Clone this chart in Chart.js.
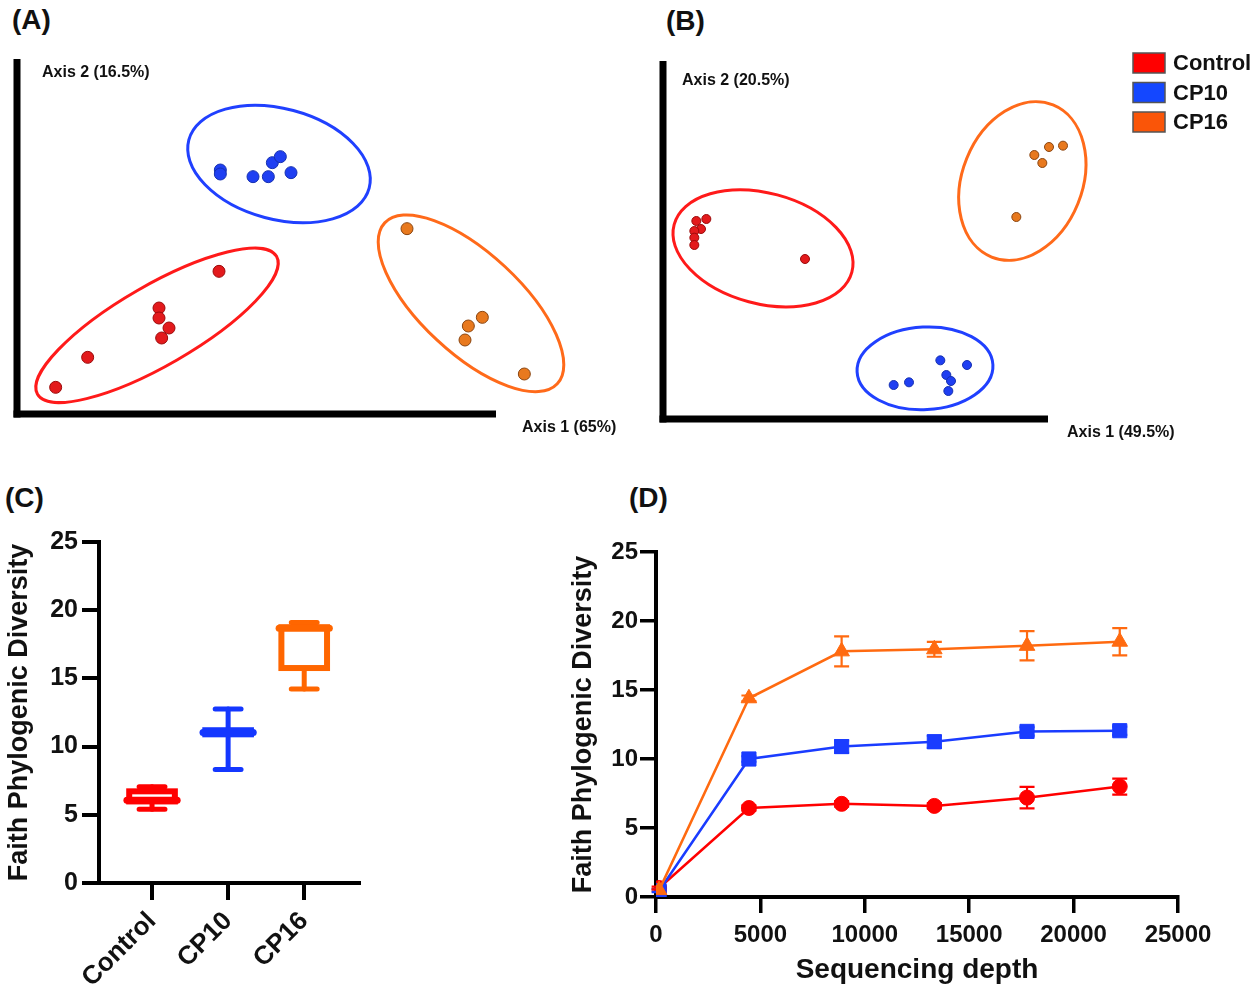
<!DOCTYPE html>
<html>
<head>
<meta charset="utf-8">
<title>PCoA and Faith PD</title>
<script src="https://cdn.jsdelivr.net/npm/chart.js@4.4.1/dist/chart.umd.min.js"></script>
<style>
  html, body { margin: 0; padding: 0; background: #fff; }
  body { width: 1260px; height: 993px; position: relative; overflow: hidden; font-family: "Liberation Sans", Arial, sans-serif; }
  .panel { position: absolute; }
  .tag { position: absolute; font-weight: bold; font-size: 28px; line-height: 28px; color: #111; }
</style>
</head>
<body>
<div class="tag" style="left:12px;top:6px">(A)</div>
<div class="tag" style="left:666px;top:7px">(B)</div>
<div class="tag" style="left:5px;top:484px">(C)</div>
<div class="tag" style="left:629px;top:484px">(D)</div>
<div class="panel" style="left:0;top:0;width:640px;height:450px"><canvas id="chartA"></canvas></div>
<div class="panel" style="left:640px;top:0;width:620px;height:450px"><canvas id="chartB"></canvas></div>
<div class="panel" style="left:0;top:470px;width:400px;height:523px"><canvas id="chartC"></canvas></div>
<div class="panel" style="left:560px;top:480px;width:700px;height:513px"><canvas id="chartD"></canvas></div>
<script>
// ---- data ----
const groups = ['Control', 'CP10', 'CP16'];

// (A) PCoA, axis 1 (65%) / axis 2 (16.5%)
const aControl = [[-0.242, -0.210], [-0.194, -0.165], [-0.087, -0.091], [-0.087, -0.106], [-0.072, -0.121], [-0.083, -0.136], [0.003, -0.036]];
const aCP10 = [[0.005, 0.116], [0.005, 0.110], [0.054, 0.106], [0.077, 0.106], [0.083, 0.127], [0.095, 0.136], [0.111, 0.112]];
const aCP16 = [[0.285, 0.028], [0.398, -0.105], [0.377, -0.118], [0.372, -0.139], [0.461, -0.190]];
// ellipse per group: centre x, centre y, semi-axis a, semi-axis b, tilt in degrees
const aEllipses = [[-0.090, -0.117, 0.207, 0.060, 30], [0.093, 0.125, 0.140, 0.083, -15], [0.381, -0.084, 0.177, 0.075, -43]];

// (B) PCoA, axis 1 (49.5%) / axis 2 (20.5%)
const bControl = [[-0.300, -0.003], [-0.285, 0.000], [-0.293, -0.015], [-0.303, -0.018], [-0.303, -0.028], [-0.303, -0.039], [-0.137, -0.060]];
const bCP10 = [[0.066, -0.212], [0.106, -0.219], [0.075, -0.234], [0.082, -0.243], [0.078, -0.258], [-0.004, -0.249], [0.019, -0.245]];
const bCP16 = [[0.229, 0.108], [0.250, 0.110], [0.207, 0.096], [0.219, 0.084], [0.180, 0.003]];
const bEllipses = [[-0.200, -0.044, 0.138, 0.083, -15], [0.043, -0.224, 0.102, 0.062, 3], [0.189, 0.057, 0.123, 0.090, 68]];

// (C) Faith PD box plot
const cMin = [5.40, 8.32, 14.22];
const cQ1 = [5.98, 10.90, 15.76];
const cMedian = [6.06, 11.03, 18.67];
const cQ3 = [6.72, 11.20, 18.75];
const cMax = [7.05, 12.76, 19.10];

// (D) rarefaction curves
const depth = [150, 4450, 8890, 13330, 17770, 22210];
const dControl = [0.65, 6.45, 6.75, 6.6, 7.2, 8.0];
const dControlErr = [0.1, 0.2, 0.2, 0.2, 0.78, 0.58];
const dCP10 = [0.45, 10.0, 10.9, 11.25, 12.0, 12.05];
const dCP10Err = [0.1, 0.2, 0.45, 0.45, 0.3, 0.3];
const dCP16 = [0.5, 14.4, 17.8, 17.95, 18.2, 18.5];
const dCP16Err = [0.1, 0.2, 1.09, 0.54, 1.06, 0.99];

// ---- styles ----
const ringColors = ['#ff1a1a', '#2040ff', '#ff6a1a'];
const dotFill = ['#e31a1c', '#1f3ff2', '#e8791e'];
const dotEdge = ['#9b0a0a', '#1530b0', '#8a4510'];
const legendColors = ['#ff0000', '#1447ff', '#fa5508'];
const lineColors = ['#ff0000', '#1a3cff', '#ff6a10'];
const boxColors = ['#ff0000', '#1437ff', '#ff6600'];
const FONT = '"Liberation Sans", Arial, sans-serif';

Chart.defaults.font.family = FONT;
Chart.defaults.color = '#111';

// draws the group ellipses, the heavy L-shaped frame, axis captions and (optionally) the legend
function pcoaPlugin(cfg) {
  return {
    id: 'pcoa',
    beforeDatasetsDraw(chart) {
      const { ctx, scales: { x, y } } = chart;
      cfg.ellipses.forEach((e, i) => {
        const cx = x.getPixelForValue(e[0]);
        const cy = y.getPixelForValue(e[1]);
        const ra = x.getPixelForValue(e[0] + e[2]) - cx;
        const rb = cy - y.getPixelForValue(e[1] + e[3]);
        ctx.save();
        ctx.beginPath();
        ctx.ellipse(cx, cy, ra, rb, -e[4] * Math.PI / 180, 0, Math.PI * 2);
        ctx.lineWidth = 3;
        ctx.strokeStyle = ringColors[i];
        ctx.stroke();
        ctx.restore();
      });
    },
    afterDraw(chart) {
      const { ctx, chartArea: ca, scales: { x, y } } = chart;
      const top = y.getPixelForValue(cfg.yTop);
      const right = x.getPixelForValue(cfg.xEnd);
      ctx.save();
      ctx.fillStyle = '#000';
      ctx.fillRect(ca.left - 3.5, top, 7, ca.bottom + 3.5 - top);
      ctx.fillRect(ca.left - 3.5, ca.bottom - 3.5, right - ca.left + 3.5, 7);
      ctx.font = 'bold 16px ' + FONT;
      ctx.fillStyle = '#111';
      ctx.textBaseline = 'middle';
      ctx.fillText(cfg.yLabel, ca.left + cfg.yLabelDx, top + cfg.yLabelDy);
      ctx.fillText(cfg.xLabel, right + cfg.xLabelDx, ca.bottom + 14);
      if (cfg.legend) {
        const L = cfg.legend;
        ctx.font = 'bold 22px ' + FONT;
        groups.forEach((g, i) => {
          const ty = L.top + i * L.step;
          ctx.fillStyle = legendColors[i];
          ctx.fillRect(L.left, ty, 32, 20);
          ctx.strokeStyle = '#555';
          ctx.lineWidth = 1.5;
          ctx.strokeRect(L.left, ty, 32, 20);
          ctx.fillStyle = '#111';
          ctx.fillText(g, L.left + 40, ty + 11);
        });
      }
      ctx.restore();
    }
  };
}

function pcoaChart(id, sets, view, cfg, radius) {
  return new Chart(document.getElementById(id), {
    type: 'scatter',
    data: {
      datasets: sets.map((pts, i) => ({
        label: groups[i],
        data: pts.map(p => ({ x: p[0], y: p[1] })),
        pointRadius: radius,
        pointBackgroundColor: dotFill[i],
        pointBorderColor: dotEdge[i],
        pointBorderWidth: 1
      }))
    },
    options: {
      animation: false,
      responsive: true,
      maintainAspectRatio: false,
      layout: { padding: view.pad },
      plugins: { legend: { display: false }, tooltip: { enabled: false } },
      scales: {
        x: { type: 'linear', display: false, min: view.x[0], max: view.x[1] },
        y: { type: 'linear', display: false, min: view.y[0], max: view.y[1] }
      }
    },
    plugins: [pcoaPlugin(cfg)]
  });
}

pcoaChart('chartA', [aControl, aCP10, aCP16],
  { x: [-0.30, 0.54], y: [-0.25, 0.311], pad: { left: 17, top: 40, right: 63, bottom: 36 } },
  { ellipses: aEllipses, yTop: 0.2825, xEnd: 0.4185,
    yLabel: 'Axis 2 (16.5%)', yLabelDx: 25, yLabelDy: 14, xLabel: 'Axis 1 (65%)', xLabelDx: 26 }, 6);

pcoaChart('chartB', [bControl, bCP10, bCP16],
  { x: [-0.35, 0.3205], y: [-0.30, 0.2685], pad: { left: 23, top: 40, right: 150, bottom: 31 } },
  { ellipses: bEllipses, yTop: 0.237, xEnd: 0.2275,
    yLabel: 'Axis 2 (20.5%)', yLabelDx: 19, yLabelDy: 20, xLabel: 'Axis 1 (49.5%)', xLabelDx: 19,
    legend: { left: 493, top: 53, step: 29.5 } }, 4.5);

// ---- (C) box plot ----
const boxStyle = { half: 0.30, medianHalf: 0.33, capHalf: 0.17 };
const boxPlugin = {
  id: 'boxes',
  afterDatasetsDraw(chart) {
    const { ctx, scales: { x, y } } = chart;
    groups.forEach((g, i) => {
      const xc = x.getPixelForValue(i + 1);
      const w = v => x.getPixelForValue(i + 1 + v) - xc;
      const yMin = y.getPixelForValue(cMin[i]);
      const yQ1 = y.getPixelForValue(cQ1[i]);
      const yMed = y.getPixelForValue(cMedian[i]);
      const yQ3 = y.getPixelForValue(cQ3[i]);
      const yMax = y.getPixelForValue(cMax[i]);
      ctx.save();
      ctx.strokeStyle = boxColors[i];
      ctx.lineCap = 'round';
      // whiskers
      ctx.lineWidth = 5;
      ctx.beginPath();
      ctx.moveTo(xc, yMax); ctx.lineTo(xc, yQ3);
      ctx.moveTo(xc, yQ1); ctx.lineTo(xc, yMin);
      ctx.stroke();
      // caps
      const cw = w(boxStyle.capHalf);
      ctx.beginPath();
      ctx.moveTo(xc - cw, yMax); ctx.lineTo(xc + cw, yMax);
      ctx.moveTo(xc - cw, yMin); ctx.lineTo(xc + cw, yMin);
      ctx.stroke();
      // box
      const bw = w(boxStyle.half);
      ctx.lineWidth = 6;
      ctx.lineCap = 'butt';
      ctx.fillStyle = '#fff';
      ctx.fillRect(xc - bw, yQ3, 2 * bw, yQ1 - yQ3);
      ctx.strokeRect(xc - bw, yQ3, 2 * bw, yQ1 - yQ3);
      // median
      const mw = w(boxStyle.medianHalf);
      ctx.lineWidth = 7;
      ctx.lineCap = 'round';
      ctx.beginPath();
      ctx.moveTo(xc - mw, yMed); ctx.lineTo(xc + mw, yMed);
      ctx.stroke();
      ctx.restore();
    });
  }
};

const axisFont = { size: 24, weight: 'bold' };
const titleFont = { size: 27, weight: 'bold' };

new Chart(document.getElementById('chartC'), {
  type: 'scatter',
  data: {
    datasets: [{ label: 'median', data: cMedian.map((v, i) => ({ x: i + 1, y: v })), pointRadius: 0 }]
  },
  options: {
    animation: false,
    responsive: true,
    maintainAspectRatio: false,
    layout: { padding: { left: 0, top: 72, right: 41, bottom: 0 } },
    plugins: { legend: { display: false }, tooltip: { enabled: false } },
    scales: {
      x: {
        type: 'linear', min: 0.303, max: 3.72,
        afterBuildTicks: s => { s.ticks = groups.map((g, i) => ({ value: i + 1 })); },
        afterFit: s => { s.height = 110; },
        border: { display: true, width: 4, color: '#000' },
        grid: { drawOnChartArea: false, tickLength: 17, lineWidth: 4, color: '#000' },
        ticks: { autoSkip: false, minRotation: 45, maxRotation: 45, padding: 6, font: { size: 26, weight: 'bold' }, color: '#111',
          callback: v => groups[v - 1] }
      },
      y: {
        type: 'linear', min: 0, max: 25,
        afterFit: s => { s.width = 99; },
        border: { display: true, width: 4, color: '#000' },
        grid: { drawOnChartArea: false, tickLength: 17, lineWidth: 4, color: '#000' },
        ticks: { stepSize: 5, padding: 4, font: { size: 25, weight: 'bold' }, color: '#111' },
        title: { display: true, text: 'Faith Phylogenic Diversity', font: titleFont, color: '#111', padding: { top: 3, bottom: 0 } }
      }
    }
  },
  plugins: [boxPlugin]
});

// ---- (D) rarefaction with error bars ----
const errorBarPlugin = {
  id: 'errorBars',
  beforeDatasetsDraw(chart) {
    const { ctx, scales: { x, y } } = chart;
    chart.data.datasets.forEach(ds => {
      ds.data.forEach((p, i) => {
        const e = ds.errors[i];
        const px = x.getPixelForValue(p.x);
        const hi = y.getPixelForValue(p.y + e);
        const lo = y.getPixelForValue(p.y - e);
        ctx.save();
        ctx.strokeStyle = ds.borderColor;
        ctx.lineWidth = 2.2;
        ctx.beginPath();
        ctx.moveTo(px, hi); ctx.lineTo(px, lo);
        ctx.moveTo(px - 7.5, hi); ctx.lineTo(px + 7.5, hi);
        ctx.moveTo(px - 7.5, lo); ctx.lineTo(px + 7.5, lo);
        ctx.stroke();
        ctx.restore();
      });
    });
  }
};

function curve(label, values, errors, color, style, radius) {
  return {
    label: label,
    data: depth.map((d, i) => ({ x: d, y: values[i] })),
    errors: errors,
    borderColor: color,
    backgroundColor: color,
    borderWidth: 2.5,
    pointStyle: style,
    pointRadius: radius,
    pointBackgroundColor: color,
    pointBorderColor: color,
    pointBorderWidth: 1,
    tension: 0
  };
}

new Chart(document.getElementById('chartD'), {
  type: 'line',
  data: {
    datasets: [
      curve('CP16', dCP16, dCP16Err, lineColors[2], 'triangle', 9),
      curve('CP10', dCP10, dCP10Err, lineColors[1], 'rect', 10),
      curve('Control', dControl, dControlErr, lineColors[0], 'circle', 7.5)
    ]
  },
  options: {
    animation: false,
    responsive: true,
    maintainAspectRatio: false,
    layout: { padding: { left: 0, top: 72, right: 82, bottom: 0 } },
    plugins: { legend: { display: false }, tooltip: { enabled: false } },
    scales: {
      x: {
        type: 'linear', min: 0, max: 25000,
        afterFit: s => { s.height = 96; },
        border: { display: true, width: 4, color: '#000' },
        grid: { drawOnChartArea: false, tickLength: 16, lineWidth: 3.5, color: '#000' },
        ticks: { stepSize: 5000, padding: 8, font: axisFont, color: '#111', callback: v => String(v) },
        title: { display: true, text: 'Sequencing depth', font: { size: 28, weight: 'bold' }, color: '#111', padding: { top: 0, bottom: 6 } }
      },
      y: {
        type: 'linear', min: 0, max: 25,
        afterFit: s => { s.width = 96; },
        border: { display: true, width: 4, color: '#000' },
        grid: { drawOnChartArea: false, tickLength: 16, lineWidth: 3.5, color: '#000' },
        ticks: { stepSize: 5, padding: 2, font: axisFont, color: '#111' },
        title: { display: true, text: 'Faith Phylogenic Diversity', font: titleFont, color: '#111', padding: { top: 7, bottom: 0 } }
      }
    }
  },
  plugins: [errorBarPlugin]
});
</script>
</body>
</html>
